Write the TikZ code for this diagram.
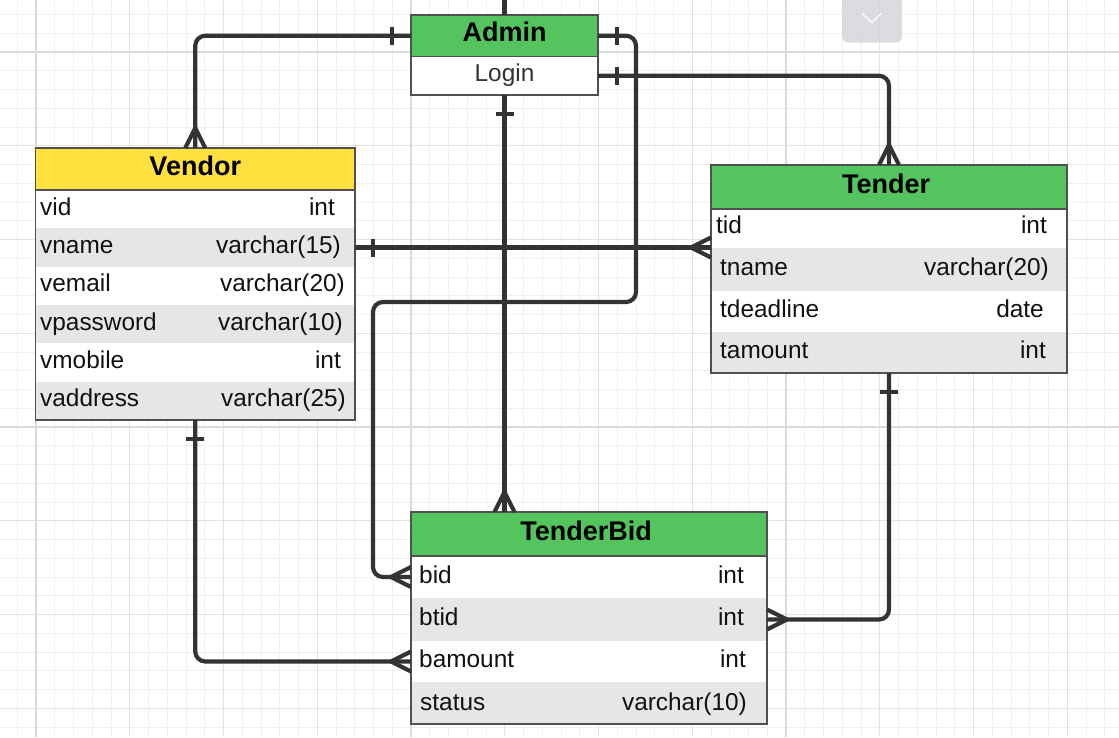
\documentclass[tikz,border=0pt]{standalone}
\usepackage{fontspec}
\setmainfont{Liberation Sans}
\usetikzlibrary{calc}
\definecolor{lnc}{HTML}{333333}
\definecolor{bdc}{HTML}{505050}
\definecolor{hgreen}{HTML}{54C45E}
\definecolor{hyellow}{HTML}{FFE03F}
\definecolor{rowgray}{HTML}{E6E6E6}
\definecolor{gminor}{HTML}{F0F0F0}
\definecolor{gmajor}{HTML}{E2E2E2}
\definecolor{gpage}{HTML}{DADADA}
\definecolor{uigray}{HTML}{D0D1D5}
\definecolor{txt}{HTML}{111111}
\definecolor{logintxt}{HTML}{333333}
\newcommand\mkcrow[3]{\draw[crow] ($(#1)+(#3)$) -- ($(#1)+(#2)$) -- ($(#1)-(#3)$);}
\newcommand\mkbar[3]{\draw[crow] ($(#1)+(#2)+(#3)$) -- ($(#1)+(#2)-(#3)$);}
\tikzset{
  conn/.style={draw=lnc, line width=4.2pt, rounded corners=10pt},
  crow/.style={draw=lnc, line width=4.2pt, line cap=butt, line join=round},
  hdr/.style={anchor=north west, inner sep=0pt, outer sep=0pt, draw=bdc, line width=1.2pt},
  rowb/.style={anchor=north west, inner sep=0pt, outer sep=0pt},
  tabframe/.style={draw=bdc, line width=1.2pt},
  ltxt/.style={anchor=base west, inner sep=0pt, text=txt, font=\fontsize{24.4}{28}\selectfont},
  rtxt/.style={anchor=base east, inner sep=0pt, text=txt, font=\fontsize{24.4}{28}\selectfont},
  htxt/.style={anchor=base, inner sep=0pt, text=black, font=\fontsize{27}{30}\selectfont\bfseries},
}
\begin{document}
\begin{tikzpicture}[x=1pt,y=-1pt]
\useasboundingbox (0,0) rectangle (1119,737);
\clip (0,0) rectangle (1119,737);
\fill[white] (0,0) rectangle (1119,737);
% grid
\foreach \k in {-1,...,57} \draw[gminor, line width=1pt] ({36+18.75*\k},0) -- ({36+18.75*\k},737);
\foreach \k in {-2,...,36} \draw[gminor, line width=1pt] (0,{52+18.75*\k}) -- (1119,{52+18.75*\k});
\foreach \k in {0,...,11} \draw[gmajor, line width=1pt] ({36+93.75*\k},0) -- ({36+93.75*\k},737);
\foreach \k in {0,...,7} \draw[gmajor, line width=1pt] (0,{52+93.75*\k}) -- (1119,{52+93.75*\k});
\foreach \xx in {36,411,786} \draw[gpage, line width=2pt] (\xx,0) -- (\xx,737);
\foreach \yy in {52,427} \draw[gpage, line width=2pt] (0,\yy) -- (1119,\yy);
% UI button
\fill[uigray, opacity=0.75, rounded corners=6pt] (842,-10) rectangle (902,42.5);
\draw[white, line width=1.2pt] (862,13.3) -- (871.8,22.5) -- (881.5,13.3);

% Admin
\node[hdr, fill=hgreen, minimum width=187pt, minimum height=41.5pt] (ah) at (411,15) {};
\node[rowb, fill=white, minimum width=187pt, minimum height=38.5pt] (login) at (411,56.5) {};
\draw[tabframe] (ah.north west) rectangle (login.south east);
\draw[tabframe] (ah.south west) -- (ah.south east);
\node[htxt] (aht) at ($(ah.center)+(0,6)$) {Admin};
\node[ltxt, anchor=base, text=logintxt] (logint) at ($(login.center)+(0,6)$) {Login};

% Vendor
\node[hdr, fill=hyellow, minimum width=319.5pt, minimum height=42pt] (vh) at (35.5,148) {};
\node[rowb, fill=white, minimum width=319.5pt, minimum height=38.33pt] (v1) at (35.5,190) {};
\node[rowb, fill=rowgray, minimum width=319.5pt, minimum height=38.33pt] (v2) at (35.5,228.33) {};
\node[rowb, fill=white, minimum width=319.5pt, minimum height=38.33pt] (v3) at (35.5,266.67) {};
\node[rowb, fill=rowgray, minimum width=319.5pt, minimum height=38.33pt] (v4) at (35.5,305) {};
\node[rowb, fill=white, minimum width=319.5pt, minimum height=38.33pt] (v5) at (35.5,343.33) {};
\node[rowb, fill=rowgray, minimum width=319.5pt, minimum height=38.33pt] (v6) at (35.5,381.67) {};
\draw[tabframe] (vh.north west) rectangle (v6.south east);
\draw[tabframe] (vh.south west) -- (vh.south east);
\node[htxt] (vht) at ($(vh.center)+(0,6)$) {Vendor};
\node[ltxt] (v1l) at ($(v1.west)+(4.5,6)$) {vid};
\node[rtxt] (v1r) at ($(v1.east)+(-20,6)$) {int};
\node[ltxt] (v2l) at ($(v2.west)+(4.5,6)$) {vname};
\node[rtxt] (v2r) at ($(v2.east)+(-14,6)$) {varchar(15)};
\node[ltxt] (v3l) at ($(v3.west)+(4.5,6)$) {vemail};
\node[rtxt] (v3r) at ($(v3.east)+(-10,6)$) {varchar(20)};
\node[ltxt] (v4l) at ($(v4.west)+(4.5,6)$) {vpassword};
\node[rtxt] (v4r) at ($(v4.east)+(-12,6)$) {varchar(10)};
\node[ltxt] (v5l) at ($(v5.west)+(4.5,6)$) {vmobile};
\node[rtxt] (v5r) at ($(v5.east)+(-14,6)$) {int};
\node[ltxt] (v6l) at ($(v6.west)+(4.5,6)$) {vaddress};
\node[rtxt] (v6r) at ($(v6.east)+(-9,6)$) {varchar(25)};

% Tender
\node[hdr, fill=hgreen, minimum width=356pt, minimum height=44pt] (th) at (711,165) {};
\node[rowb, fill=white, minimum width=356pt, minimum height=39pt] (t1) at (711,209) {};
\node[rowb, fill=rowgray, minimum width=356pt, minimum height=43pt] (t2) at (711,248) {};
\node[rowb, fill=white, minimum width=356pt, minimum height=41pt] (t3) at (711,291) {};
\node[rowb, fill=rowgray, minimum width=356pt, minimum height=41pt] (t4) at (711,332) {};
\draw[tabframe] (th.north west) rectangle (t4.south east);
\draw[tabframe] (th.south west) -- (th.south east);
\node[htxt] (tht) at ($(th.center)+(-3,6)$) {Tender};
\node[ltxt] (t1l) at ($(t1.west)+(5,5)$) {tid};
\node[rtxt] (t1r) at ($(t1.east)+(-20,5)$) {int};
\node[ltxt] (t2l) at ($(t2.west)+(9,5.5)$) {tname};
\node[rtxt] (t2r) at ($(t2.east)+(-18,5.5)$) {varchar(20)};
\node[ltxt] (t3l) at ($(t3.west)+(9,5.5)$) {tdeadline};
\node[rtxt] (t3r) at ($(t3.east)+(-23,5.5)$) {date};
\node[ltxt] (t4l) at ($(t4.west)+(9,6)$) {tamount};
\node[rtxt] (t4r) at ($(t4.east)+(-21,6)$) {int};

% TenderBid
\node[hdr, fill=hgreen, minimum width=356pt, minimum height=44pt] (bh) at (411,512) {};
\node[rowb, fill=white, minimum width=356pt, minimum height=42pt] (b1) at (411,556) {};
\node[rowb, fill=rowgray, minimum width=356pt, minimum height=43pt] (b2) at (411,598) {};
\node[rowb, fill=white, minimum width=356pt, minimum height=41pt] (b3) at (411,641) {};
\node[rowb, fill=rowgray, minimum width=356pt, minimum height=42pt] (b4) at (411,682) {};
\draw[tabframe] (bh.north west) rectangle (b4.south east);
\draw[tabframe] (bh.south west) -- (bh.south east);
\node[htxt] (bht) at ($(bh.center)+(-3,6.5)$) {TenderBid};
\node[ltxt] (b1l) at ($(b1.west)+(8,6)$) {bid};
\node[rtxt] (b1r) at ($(b1.east)+(-23,6)$) {int};
\node[ltxt] (b2l) at ($(b2.west)+(8,6)$) {btid};
\node[rtxt] (b2r) at ($(b2.east)+(-23,6)$) {int};
\node[ltxt] (b3l) at ($(b3.west)+(8,6)$) {bamount};
\node[rtxt] (b3r) at ($(b3.east)+(-21,6)$) {int};
\node[ltxt] (b4l) at ($(b4.west)+(9,7)$) {status};
\node[rtxt] (b4r) at ($(b4.east)+(-20,7)$) {varchar(10)};

% connectors
\coordinate (topc) at (504.5,0);
\coordinate (k2a) at (636,302);
\coordinate (k2b) at (373,450);
\coordinate (bin) at (login.south |- bh.north);
\coordinate (tin) at (v2.east -| t1.west);
\draw[conn] (topc) -- (ah.north);
\draw[conn] (ah.west) -| (vh.north);
\draw[conn] (ah.east) -| (k2a) -| (k2b) |- (b1.west);
\draw[conn] (login.east) -| (th.north);
\draw[conn] (login.south) -- (bin);
\draw[conn] (v2.east) -- (tin);
\draw[conn] (v6.south) |- (b3.west);
\draw[conn] (t4.south) |- (b2.east);
% one marks
\mkbar{ah.west}{-19,0}{0,9}
\mkbar{ah.east}{19,0}{0,9}
\mkbar{login.east}{19,0}{0,9}
\mkbar{login.south}{0,19}{9,0}
\mkbar{v2.east}{18,0}{0,9}
\mkbar{v6.south}{0,19}{9,0}
\mkbar{t4.south}{0,19}{9,0}
% many marks
\mkcrow{vh.north}{0,-20}{10,0}
\mkcrow{b1.west}{-20,0}{0,10}
\mkcrow{th.north}{0,-20}{10,0}
\mkcrow{bin}{0,-20}{10,0}
\mkcrow{tin}{-20,0}{0,10}
\mkcrow{b3.west}{-20,0}{0,10}
\mkcrow{b2.east}{20,0}{0,10}
\end{tikzpicture}
\end{document}
